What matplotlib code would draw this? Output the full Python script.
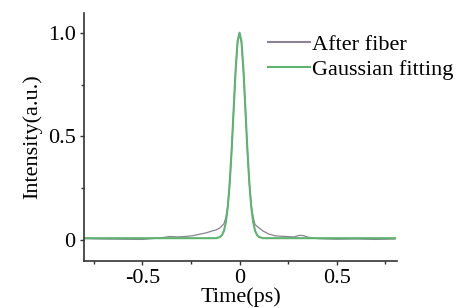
import matplotlib
matplotlib.use("Agg")
import matplotlib.pyplot as plt
from matplotlib.ticker import MultipleLocator
from matplotlib.lines import Line2D

plt.rcParams["font.family"] = "Liberation Serif"

# measured pulse after fiber
t_meas = [-0.8, -0.7, -0.6, -0.5, -0.45, -0.4, -0.36, -0.32, -0.28, -0.24,
          -0.2, -0.17, -0.14, -0.12, -0.1, -0.08, -0.07, -0.06, -0.05, -0.04,
          -0.03, -0.02, -0.01, 0.0, 0.01, 0.02, 0.03, 0.04, 0.05, 0.06,
          0.07, 0.08, 0.1, 0.12, 0.15, 0.18, 0.2, 0.24, 0.28, 0.31,
          0.33, 0.35, 0.4, 0.45, 0.5, 0.6, 0.7, 0.8]
i_meas = [0.008, 0.006, 0.005, 0.004, 0.008, 0.012, 0.018, 0.016, 0.018, 0.022,
          0.03, 0.036, 0.045, 0.05, 0.06, 0.08, 0.11, 0.17, 0.28, 0.44,
          0.63, 0.82, 0.95, 1.0, 0.95, 0.82, 0.63, 0.44, 0.28, 0.17,
          0.11, 0.075, 0.06, 0.045, 0.03, 0.022, 0.02, 0.018, 0.016, 0.024,
          0.022, 0.015, 0.008, 0.006, 0.005, 0.006, 0.004, 0.006]

# gaussian fit
t_fit = [-0.8, -0.2, -0.12, -0.1, -0.09, -0.08, -0.07, -0.06, -0.05, -0.04,
         -0.03, -0.02, -0.01, 0.0, 0.01, 0.02, 0.03, 0.04, 0.05, 0.06,
         0.07, 0.08, 0.09, 0.1, 0.12, 0.2, 0.8]
i_fit = [0.01, 0.01, 0.01, 0.016, 0.025, 0.046, 0.088, 0.164, 0.282, 0.445,
         0.636, 0.822, 0.959, 1.0, 0.959, 0.822, 0.636, 0.445, 0.282, 0.164,
         0.088, 0.046, 0.025, 0.016, 0.01, 0.01, 0.01]

gray = "#8c8290"
green = "#5db36f"
axis_c = "#333333"
fs = 16

fig = plt.figure(figsize=(4.59, 3.08), dpi=100)
ax = fig.add_axes([84 / 459, 47 / 308, 313 / 459, 248 / 308])

ax.plot(t_meas, i_meas, color=gray, lw=0.9)
ax.plot(t_fit, i_fit, color=green, lw=1.5)

ax.set_xlim(-0.8, 0.81)
ax.set_ylim(-0.1, 1.095)
ax.xaxis.set_minor_locator(MultipleLocator(0.25))
ax.yaxis.set_minor_locator(MultipleLocator(0.25))
ax.set_xticks([-0.5, 0, 0.5])
ax.set_xticklabels(["-0.5", "0", "0.5"])
ax.set_yticks([0, 0.5, 1.0])
ax.set_yticklabels(["0", "0.5", "1.0"])

for s in ["top", "right"]:
    ax.spines[s].set_visible(False)
for s in ["left", "bottom"]:
    ax.spines[s].set_color(axis_c)
    ax.spines[s].set_linewidth(1.2)

ax.tick_params(which="major", length=3, width=1, color=axis_c,
               labelsize=fs, pad=3)
ax.tick_params(which="minor", length=2, width=1, color=axis_c)

ax.set_ylabel("Intensity(a.u.)", fontsize=fs, labelpad=4)
ax.set_xlabel("Time(ps)", fontsize=fs, labelpad=-1)

handles = [Line2D([], [], color=gray, lw=1.5),
           Line2D([], [], color=green, lw=1.5)]
ax.legend(handles, ["After fiber", "Gaussian fitting"], loc="upper left",
          bbox_to_anchor=(268 / 459, 1 - 34 / 308),
          bbox_transform=fig.transFigure, frameon=False, fontsize=fs,
          handlelength=1.9, handletextpad=0.1, labelspacing=0.2,
          borderpad=0, borderaxespad=0)

fig.savefig("out.png", dpi=100)
